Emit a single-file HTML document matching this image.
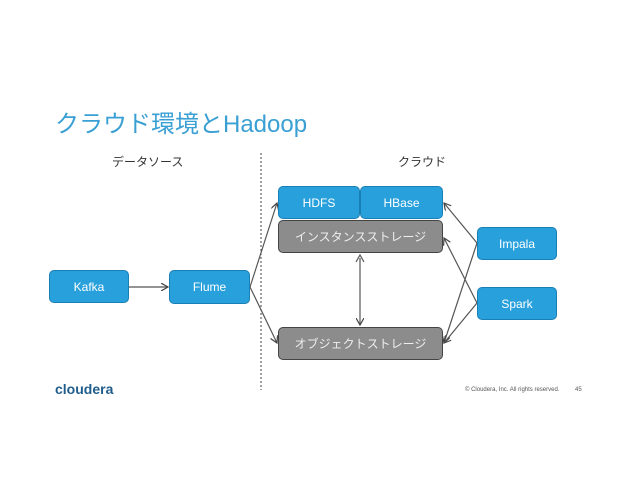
<!DOCTYPE html>
<html><head><meta charset="utf-8"><style>
body{margin:0;width:638px;height:493px;background:#fff;position:relative;overflow:hidden;font-family:"Liberation Sans","Noto Sans CJK JP",sans-serif}
.t{position:absolute;white-space:nowrap}
.b{position:absolute;box-sizing:border-box;border-radius:5px;color:#fff;font-size:12px;display:flex;align-items:center;justify-content:center;border:1px solid #1a7fb5;background:#28a0dc}
.g{background:#8c8c8c;border:1px solid #444;color:#eee}
</style></head><body>
<div class="t" style="left:55px;top:104px;font-size:24px;color:#3aa0d4">クラウド環境とHadoop</div>
<div class="t" style="left:112px;top:153px;font-size:12px;color:#333">データソース</div>
<div class="t" style="left:398px;top:153px;font-size:12px;color:#333">クラウド</div>
<svg style="position:absolute;left:0;top:0" width="638" height="493">
<defs><marker id="a" markerWidth="8" markerHeight="8" refX="7" refY="4" orient="auto" markerUnits="userSpaceOnUse"><path d="M0,0 L7,4 L0,8" fill="none" stroke="#444" stroke-width="1.2"/></marker></defs>
<line x1="261" y1="153" x2="261" y2="390" stroke="#444" stroke-dasharray="2,2"/>
<g stroke="#555" stroke-width="1.2" fill="none">
<line x1="129" y1="287" x2="168" y2="287" marker-end="url(#a)"/>
<line x1="250" y1="287" x2="277" y2="203" marker-end="url(#a)"/>
<line x1="250" y1="287" x2="277" y2="343" marker-end="url(#a)"/>
<line x1="477" y1="243" x2="444" y2="203" marker-end="url(#a)"/>
<line x1="477" y1="243" x2="444" y2="343" marker-end="url(#a)"/>
<line x1="477" y1="303" x2="444" y2="238" marker-end="url(#a)"/>
<line x1="477" y1="303" x2="444" y2="343" marker-end="url(#a)"/>
<line x1="360" y1="258" x2="360" y2="325" marker-end="url(#a)"/>
<path d="M356,262 L360,255 L364,262"/>
</g>
</svg>
<div class="b" style="left:49px;top:270px;width:80px;height:33px">Kafka</div>
<div class="b" style="left:169px;top:270px;width:81px;height:34px">Flume</div>
<div class="b" style="left:278px;top:186px;width:82px;height:33px">HDFS</div>
<div class="b" style="left:360px;top:186px;width:83px;height:33px">HBase</div>
<div class="b g" style="left:278px;top:220px;width:165px;height:33px">インスタンスストレージ</div>
<div class="b g" style="left:278px;top:327px;width:165px;height:33px">オブジェクトストレージ</div>
<div class="b" style="left:477px;top:227px;width:80px;height:33px">Impala</div>
<div class="b" style="left:477px;top:287px;width:80px;height:33px">Spark</div>
<div class="t" style="left:55px;top:381px;font-size:14px;font-weight:bold;color:#1f5d8c">cloudera</div>
<div class="t" style="left:465px;top:387px;font-size:6px;color:#555">© Cloudera, Inc. All rights reserved.</div>
<div class="t" style="left:575px;top:387px;font-size:6px;color:#555">45</div>
</body></html>
